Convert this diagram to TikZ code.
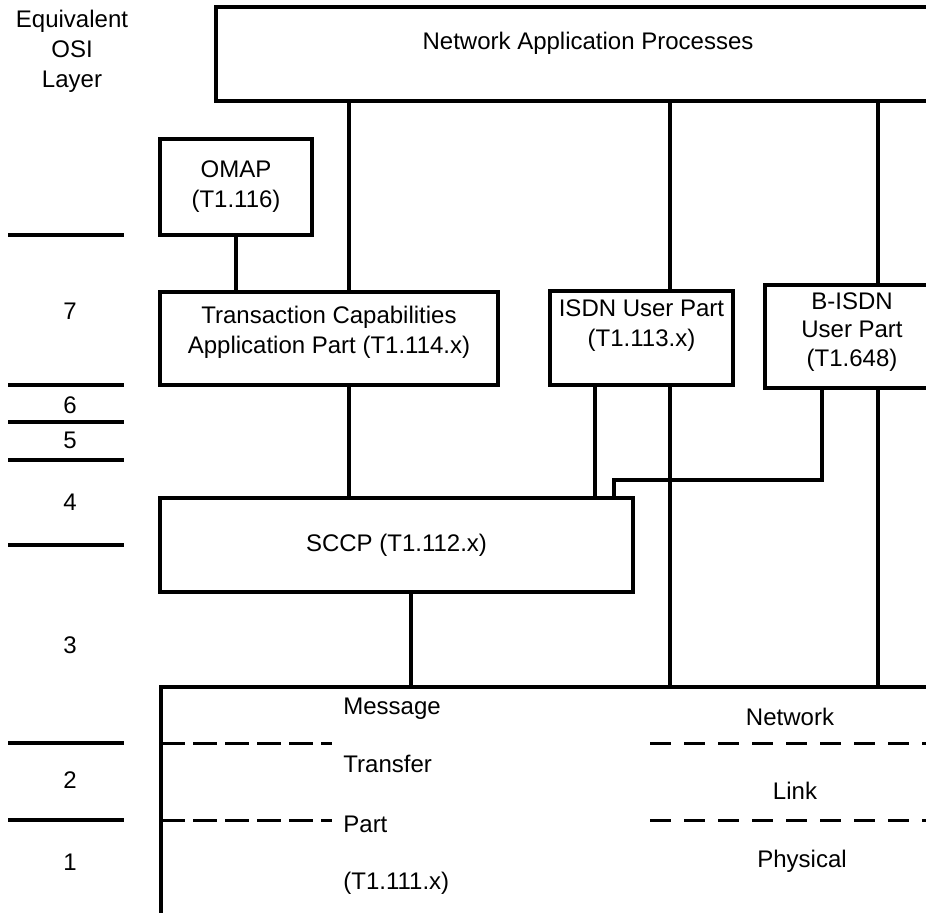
\documentclass[tikz,border=0pt]{standalone}
\usepackage{fontspec}
\setmainfont{Liberation Sans}
\usetikzlibrary{positioning, calc}

\begin{document}
\begin{tikzpicture}[
    x=0.5pt, y=-0.5pt,
    font=\fontsize{12}{15}\selectfont,
    box/.style={rectangle, draw, line width=1.6pt, align=center, inner sep=0pt},
    txt/.style={align=center, inner sep=0pt},
    wire/.style={line width=1.6pt},
    layerrule/.style={line width=1.6pt},
    dashrule/.style={line width=1.5pt, dash pattern=on 12pt off 4pt},
    dashrule2/.style={line width=1.5pt, dash pattern=on 10.5pt off 6.5pt},
    mtptxt/.style={inner sep=0pt, anchor=base west},
]
\clip (0,0) rectangle (926,912);

% --- OSI layer column ---
\node[txt] (osi) at (72,51) {Equivalent\\OSI\\Layer};
\foreach \y in {235,385,422,460,545,743,820}
    \draw[layerrule] (8,\y) -- (124,\y);
\foreach \n/\y in {7/311,6/405,5/440,4/502,3/645,2/780,1/862}
    \node[txt] (layer\n) at (70,\y) {\n};

% --- boxes ---
\node[box, minimum width=372pt, minimum height=47pt] (app) at (588,54) {};
\node[txt] (apptxt) at (588,43) {Network Application Processes};

\node[box, minimum width=76pt, minimum height=48pt] (omap) at (236,187)
    {OMAP\\(T1.116)};

\node[box, minimum width=169pt, minimum height=46.5pt] (tcap) at (329,338.5) {};
\node[txt] (tcaptxt) at (329,332)
    {Transaction Capabilities\\Application Part (T1.114.x)};

\node[box, minimum width=91.5pt, minimum height=47pt] (isdn) at (641.5,338) {};
\node[txt] (isdntxt) at (641.5,326) {ISDN User Part\\(T1.113.x)};

\node[box, minimum width=87pt, minimum height=51.5pt] (bisdn) at (852,336.5) {};
\node[txt, font=\fontsize{12}{14.3}\selectfont] (bisdntxt) at (852,332)
    {B-ISDN\\User Part\\(T1.648)};

\node[box, minimum width=236.5pt, minimum height=47pt] (sccp) at (396.5,545)
    {SCCP (T1.112.x)};

\node[box, minimum width=419.5pt, minimum height=156.5pt] (mtp) at (580.5,843.5) {};

% --- MTP texts ---
\node[mtptxt] (msg) at (343,714) {Message};
\node[mtptxt] (transfer) at (343,772) {Transfer};
\node[mtptxt] (part) at (343,832) {Part};
\node[mtptxt] (mtpref) at (343,889) {(T1.111.x)};
\node[txt, anchor=base] (network) at (790,725) {Network};
\node[txt, anchor=base] (link) at (795,799) {Link};
\node[txt, anchor=base] (physical) at (802,867) {Physical};

% --- dashed sublayer rules ---
\coordinate (d1) at (161,743);
\coordinate (d2) at (161,820);
\draw[dashrule] (d1) -- (332,743);
\draw[dashrule] (d2) -- (332,820);
\draw[dashrule2] (650,743) -- (mtp.east |- d1);
\draw[dashrule2] (650,820) -- (mtp.east |- d2);

% ============== connectors ==============
\draw[wire] (app.south -| 349,0) -- (tcap.north -| 349,0);
\draw[wire] (app.south -| 670,0) -- (isdn.north -| 670,0);
\draw[wire] (app.south -| 878,0) -- (bisdn.north -| 878,0);
\draw[wire] (omap.south) -- (omap.south |- tcap.north);
\draw[wire] (tcap.south -| 349,0) -- (sccp.north -| 349,0);
\draw[wire] (isdn.south -| 595,0) -- (sccp.north -| 595,0);
\draw[wire] (isdn.south -| 670,0) -- (mtp.north -| 670,0);
\draw[wire] (bisdn.south -| 822,0) -- (822,480) -- (614,480) -- (sccp.north -| 614,0);
\draw[wire] (bisdn.south -| 878,0) -- (mtp.north -| 878,0);
\draw[wire] (sccp.south -| 411,0) -- (mtp.north -| 411,0);

\end{tikzpicture}
\end{document}
